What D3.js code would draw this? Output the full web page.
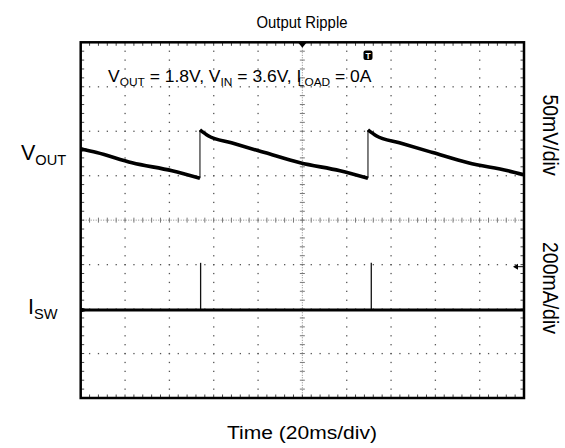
<!DOCTYPE html>
<html><head><meta charset="utf-8">
<script src="https://cdn.jsdelivr.net/npm/d3@7"></script>
<style>body{margin:0;background:#fff}svg{display:block}text{font-family:"Liberation Sans",Arial,sans-serif;fill:#000}</style>
</head><body><svg id="c" width="565" height="448"></svg>
<script>
// ---- data ----
const timeDomain = [0, 200];        // ms, 20 ms/div, 10 div
const divDomain = [-4, 4];          // vertical divisions
const voutDomain = [-200, 200];     // mV relative to screen centre, 50 mV/div
const iswDomain = [-800, 800];      // mA, 200 mA/div
const voutSeg1 = [[0,80],[7.2,76],[23.2,64.5],[41.2,55.5],[53.8,47]];
const voutSeg2 = [[53.8,101.5],[57.5,95],[68,87],[83,76],[99,64.5],[117,55.5],[129.6,47]];
const voutSeg3 = [[129.6,101.5],[133.3,95],[143.8,87],[158.8,76],[174.8,64.5],[192.8,55.5],[200,51]];
const voutJumps = [[53.8,47,101.5],[129.6,47,101.5]];
const iswBase = [[0,-404],[200,-404]];
const iswSpikes = [[54.1,-404,-192],[131.1,-404,-192]];
const titleText = "Output Ripple";
const xLabel = "Time (20ms/div)";
const rightLabels = ["50mV/div","200mA/div"];

// ---- layout ----
const L = 80.7, R = 524, T = 42.3, B = 398;
const svg = d3.select("#c");
const x = d3.scaleLinear(timeDomain, [L, R]);
const gy = d3.scaleLinear(divDomain, [B, T]);
const yV = d3.scaleLinear(voutDomain, [B, T]);
const yI = d3.scaleLinear(iswDomain, [B, T]);
const xd = d3.scaleLinear([0,10],[L,R]);

const grid = svg.append("g");
const xm = d3.range(1, 50).map(i => xd(i/5));
const ym = d3.range(1, 40).map(j => gy(-4 + j/5));
for (let i = 1; i < 10; i++) {
  if (i === 5) continue;
  const gx = xd(i);
  grid.selectAll(null).data(ym).enter().append("rect")
    .attr("x", gx-0.6).attr("y", d=>d-0.6).attr("width",1.3).attr("height",1.3).attr("fill","#555");
}
for (let j = 1; j < 8; j++) {
  if (j === 4) continue;
  const yy = gy(-4 + j);
  grid.selectAll(null).data(xm).enter().append("rect")
    .attr("x", d=>d-0.6).attr("y", yy-0.6).attr("width",1.3).attr("height",1.3).attr("fill","#555");
}
const cx = xd(5), cy = gy(0);
grid.append("line").attr("x1",L).attr("x2",R).attr("y1",cy).attr("y2",cy)
  .attr("stroke","#888").attr("stroke-width",1).attr("stroke-dasharray","1,1.5");
grid.append("line").attr("x1",cx).attr("x2",cx).attr("y1",T).attr("y2",B)
  .attr("stroke","#888").attr("stroke-width",1).attr("stroke-dasharray","1,1.5");
grid.selectAll(null).data(xm).enter().append("line")
  .attr("x1",d=>d).attr("x2",d=>d).attr("y1",cy-2.5).attr("y2",cy+2.5).attr("stroke","#777");
grid.selectAll(null).data(ym).enter().append("line")
  .attr("y1",d=>d).attr("y2",d=>d).attr("x1",cx-2.5).attr("x2",cx+2.5).attr("stroke","#777");
grid.selectAll(null).data(ym).enter().append("line")
  .attr("y1",d=>d).attr("y2",d=>d).attr("x1",L).attr("x2",L+3.5).attr("stroke","#444");
grid.selectAll(null).data(ym).enter().append("line")
  .attr("y1",d=>d).attr("y2",d=>d).attr("x1",R-3.5).attr("x2",R).attr("stroke","#444");
grid.selectAll(null).data(xm).enter().append("line")
  .attr("x1",d=>d).attr("x2",d=>d).attr("y1",T).attr("y2",T+3.5).attr("stroke","#444");
grid.selectAll(null).data(xm).enter().append("line")
  .attr("x1",d=>d).attr("x2",d=>d).attr("y1",B-3.5).attr("y2",B).attr("stroke","#444");

// ---- traces ----
const lineV = d3.line().x(d=>x(d[0])).y(d=>yV(d[1])).curve(d3.curveMonotoneX);
const lineI = d3.line().x(d=>x(d[0])).y(d=>yI(d[1]));
const tr = svg.append("g");
tr.selectAll(null).data(voutJumps).enter().append("line")
  .attr("x1",d=>x(d[0])).attr("x2",d=>x(d[0])).attr("y1",d=>yV(d[1])).attr("y2",d=>yV(d[2]))
  .attr("stroke","#555").attr("stroke-width",1.5);
[voutSeg1, voutSeg2, voutSeg3].forEach(s => {
  tr.append("path").attr("d", lineV(s)).attr("fill","none").attr("stroke","#000").attr("stroke-width",3.6);
});
tr.selectAll(null).data(iswSpikes).enter().append("line")
  .attr("x1",d=>x(d[0])).attr("x2",d=>x(d[0])).attr("y1",d=>yI(d[1])).attr("y2",d=>yI(d[2]))
  .attr("stroke","#111").attr("stroke-width",1.3);
tr.append("path").attr("d", lineI(iswBase)).attr("fill","none").attr("stroke","#000").attr("stroke-width",3);

svg.append("rect").attr("x",L).attr("y",T).attr("width",R-L).attr("height",B-T)
  .attr("fill","none").attr("stroke","#000").attr("stroke-width",2.5);

// markers
svg.append("path").attr("d",`M${cx-4.5},${T}L${cx+4.5},${T}L${cx},${T+5.5}Z`).attr("fill","#000");
svg.append("rect").attr("x",363.5).attr("y",50.5).attr("width",9).attr("height",9.5).attr("rx",2).attr("fill","#000");
svg.append("text").attr("x",368).attr("y",58.5).attr("text-anchor","middle").attr("font-size",8.5)
  .attr("font-weight","bold").style("fill","#fff").text("T");
svg.append("path").attr("d",`M${R-11},266.7L${R-6},263.7L${R-6},269.7Z`).attr("fill","#000");
svg.append("line").attr("x1",R-6).attr("x2",R).attr("y1",266.7).attr("y2",266.7).attr("stroke","#000").attr("stroke-width",1);
[yV(79.5), yI(-404)].forEach(v => {
  svg.append("path").attr("d",`M${L},${v-2.5}L${L+8},${v}L${L},${v+2.5}Z`).attr("fill","#000");
});

// ---- texts ----
function stext(xp, yp, fs, anchor, sx, rot) {
  const g = svg.append("g").attr("transform", `translate(${xp},${yp}) scale(${sx},1)` + (rot ? ` rotate(${rot})` : ""));
  return g.append("text").attr("font-size", fs).attr("text-anchor", anchor);
}
function addSub(t, parts, fs) {
  let shifted = false;
  parts.forEach(p => {
    const ts = t.append("tspan").text(p.t);
    if (p.sub) { ts.attr("font-size", fs*0.68).attr("dy", fs*0.25); shifted = true; if (p.dx) ts.attr("dx", p.dx); }
    else if (shifted) { ts.attr("dy", -fs*0.25); shifted = false; }
  });
}
stext(302, 28, 16, "middle", 0.93).text(titleText);
const ann = stext(108, 82, 17, "start", 1.03);
addSub(ann, [{t:"V"},{t:"OUT",sub:1},{t:" = 1.8V, V"},{t:"IN",sub:1},{t:" = 3.6V, I"},{t:"LOAD",sub:1,dx:-3.5},{t:" = 0A"}], 17);
stext(302, 439, 18.3, "middle", 1.15).text(xLabel);
stext(543, 135, 19.5, "middle", 1.15, 90).text(rightLabels[0]);
stext(543, 288, 19.5, "middle", 1.15, 90).text(rightLabels[1]);
const vl = stext(21, 160, 21.5, "start", 1.0);
addSub(vl, [{t:"V"},{t:"OUT",sub:1}], 21.5);
const il = stext(28, 314, 21.5, "start", 1.0);
addSub(il, [{t:"I"},{t:"SW",sub:1}], 21.5);
</script></body></html>
